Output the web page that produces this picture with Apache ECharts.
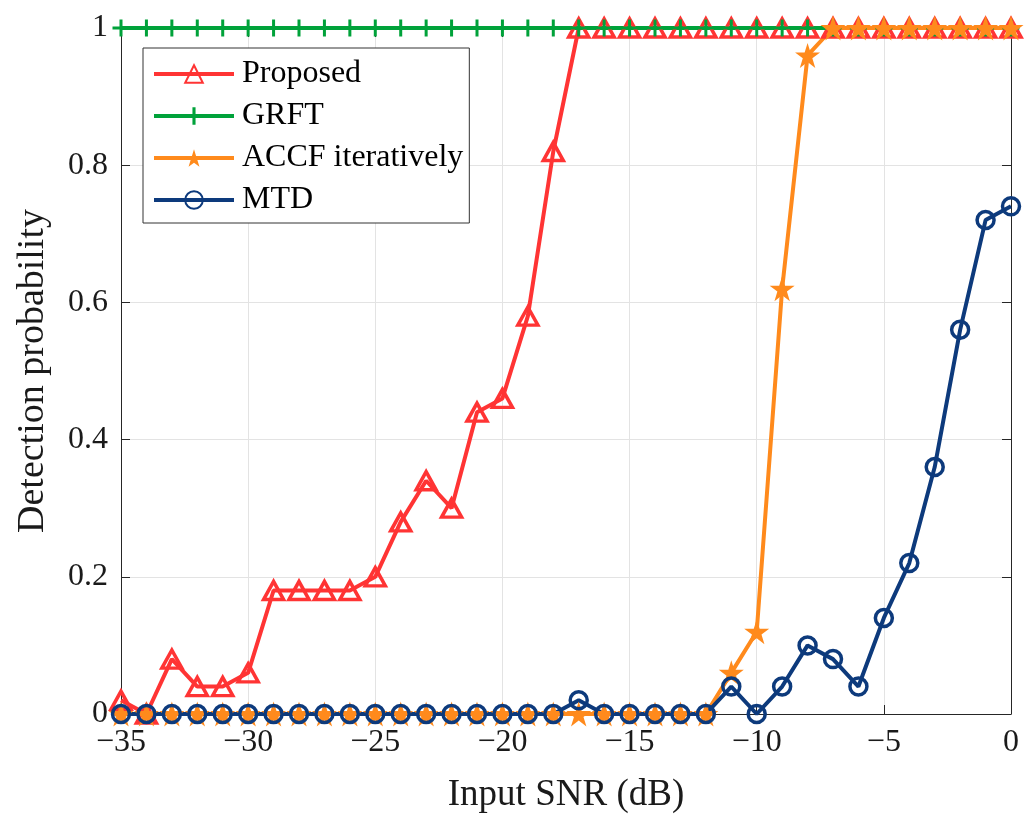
<!DOCTYPE html>
<html>
<head>
<meta charset="utf-8">
<title>Detection probability vs input SNR</title>
<script src="https://cdn.jsdelivr.net/npm/echarts@6/dist/echarts.min.js"></script>
<style>
    html, body { margin: 0; padding: 0; background: #fff; }
    #snr_chart { width: 1035px; height: 819px; }
</style>
</head>
<body>
<div id="snr_chart"></div>
<script>

// Data
// ------------------------------

var snrValues = [-35, -34, -33, -32, -31, -30, -29, -28, -27, -26, -25, -24,
                 -23, -22, -21, -20, -19, -18, -17, -16, -15, -14, -13, -12,
                 -11, -10, -9, -8, -7, -6, -5, -4, -3, -2, -1, 0];

var proposedValues = [0.02, 0, 0.08, 0.04, 0.04, 0.06, 0.18, 0.18, 0.18, 0.18, 0.20, 0.28,
                      0.34, 0.30, 0.44, 0.46, 0.58, 0.82, 1, 1, 1, 1, 1, 1,
                      1, 1, 1, 1, 1, 1, 1, 1, 1, 1, 1, 1];

var grftValues = [1, 1, 1, 1, 1, 1, 1, 1, 1, 1, 1, 1,
                  1, 1, 1, 1, 1, 1, 1, 1, 1, 1, 1, 1,
                  1, 1, 1, 1, 1, 1, 1, 1, 1, 1, 1, 1];

var accfValues = [0, 0, 0, 0, 0, 0, 0, 0, 0, 0, 0, 0,
                  0, 0, 0, 0, 0, 0, 0, 0, 0, 0, 0, 0,
                  0.06, 0.12, 0.62, 0.96, 1, 1, 1, 1, 1, 1, 1, 1];

var mtdValues = [0, 0, 0, 0, 0, 0, 0, 0, 0, 0, 0, 0,
                 0, 0, 0, 0, 0, 0, 0.02, 0, 0, 0, 0, 0,
                 0.04, 0, 0.04, 0.10, 0.08, 0.04, 0.14, 0.22, 0.36, 0.56, 0.72, 0.74];

var seriesNames = ['Proposed', 'GRFT', 'ACCF iteratively', 'MTD'];


// Chart
// ------------------------------

var chartElement = document.getElementById('snr_chart');
var snrChart = echarts.init(chartElement, null, { renderer: 'canvas' });

// Styles
var fontFamily = '"Liberation Serif", "DejaVu Serif", serif',
    textColor = '#1a1a1a',
    axisColor = '#262626',
    gridColor = '#e3e3e3',
    redColor = '#ff3434',
    greenColor = '#00a23a',
    orangeColor = '#ff8a1c',
    navyColor = '#0d3a7c';

var plusPath = 'path://M7,0 H10 V7 H17 V10 H10 V17 H7 V10 H0 V7 H7 Z';
var starPath = 'path://M50,0 L61.8,36.2 L100,36.2 L69.1,58.6 L80.9,95 L50,72.6 L19.1,95 L30.9,58.6 L0,36.2 L38.2,36.2 Z';

function pairs(values) {
    return values.map(function(v, i) { return [snrValues[i], v]; });
}

function minusSign(value) {
    return String(value).replace('-', '\u2212');
}

var axisLineStyle = { show: true, onZero: false, lineStyle: { color: axisColor, width: 1 } };
var axisTickStyle = { show: true, inside: true, length: 9, lineStyle: { color: axisColor } };

snrChart.setOption({
    animation: false,
    textStyle: { fontFamily: fontFamily },

    grid: {
        left: 121,
        right: 24,
        top: 28,
        bottom: 102,
        containLabel: false
    },

    legend: {
        data: seriesNames,
        orient: 'vertical',
        left: 143,
        top: 48,
        padding: [10, 6, 7, 9],
        itemWidth: 80,
        itemHeight: 22,
        itemGap: 10,
        backgroundColor: '#fff',
        borderColor: '#333',
        borderWidth: 1,
        borderRadius: 0,
        lineStyle: { width: 4 },
        textStyle: {
            fontFamily: fontFamily,
            fontSize: 32,
            color: '#000',
            padding: [0, 0, 0, 3]
        }
    },

    xAxis: [
        {
            type: 'value',
            min: -35,
            max: 0,
            interval: 5,
            name: 'Input SNR (dB)',
            nameLocation: 'middle',
            nameGap: 63,
            nameTextStyle: { fontFamily: fontFamily, fontSize: 37, color: textColor },
            axisLabel: {
                margin: 13,
                fontSize: 32,
                color: textColor,
                formatter: minusSign
            },
            axisLine: axisLineStyle,
            axisTick: axisTickStyle,
            splitLine: { show: true, lineStyle: { color: gridColor, width: 1 } }
        },
        {
            type: 'value',
            position: 'top',
            min: -35,
            max: 0,
            interval: 5,
            axisLabel: { show: false },
            axisLine: axisLineStyle,
            axisTick: axisTickStyle,
            splitLine: { show: false }
        }
    ],

    yAxis: [
        {
            type: 'value',
            min: 0,
            max: 1,
            interval: 0.2,
            name: 'Detection probability',
            nameLocation: 'middle',
            nameGap: 69,
            nameTextStyle: { fontFamily: fontFamily, fontSize: 38, color: textColor },
            axisLabel: {
                margin: 13,
                fontSize: 32,
                color: textColor
            },
            axisLine: axisLineStyle,
            axisTick: axisTickStyle,
            splitLine: { show: true, lineStyle: { color: gridColor, width: 1 } }
        },
        {
            type: 'value',
            position: 'right',
            min: 0,
            max: 1,
            interval: 0.2,
            axisLabel: { show: false },
            axisLine: axisLineStyle,
            axisTick: axisTickStyle,
            splitLine: { show: false }
        }
    ],

    series: [
        {
            name: 'Proposed',
            type: 'line',
            data: pairs(proposedValues),
            clip: false,
            symbol: 'triangle',
            symbolSize: [20, 18],
            lineStyle: { color: redColor, width: 4 },
            itemStyle: { color: 'rgba(255,255,255,0)', borderColor: redColor, borderWidth: 3.5 }
        },
        {
            name: 'GRFT',
            type: 'line',
            data: pairs(grftValues),
            clip: false,
            symbol: plusPath,
            symbolSize: 17,
            lineStyle: { color: greenColor, width: 4 },
            itemStyle: { color: greenColor, borderWidth: 0 }
        },
        {
            name: 'ACCF iteratively',
            type: 'line',
            data: pairs(accfValues),
            clip: false,
            symbol: starPath,
            symbolSize: 25,
            lineStyle: { color: orangeColor, width: 4 },
            itemStyle: { color: orangeColor, borderWidth: 0 }
        },
        {
            name: 'MTD',
            type: 'line',
            data: pairs(mtdValues),
            clip: false,
            symbol: 'circle',
            symbolSize: 17,
            lineStyle: { color: navyColor, width: 4 },
            itemStyle: { color: 'rgba(255,255,255,0)', borderColor: navyColor, borderWidth: 3.5 }
        }
    ]
});

</script>
</body>
</html>
